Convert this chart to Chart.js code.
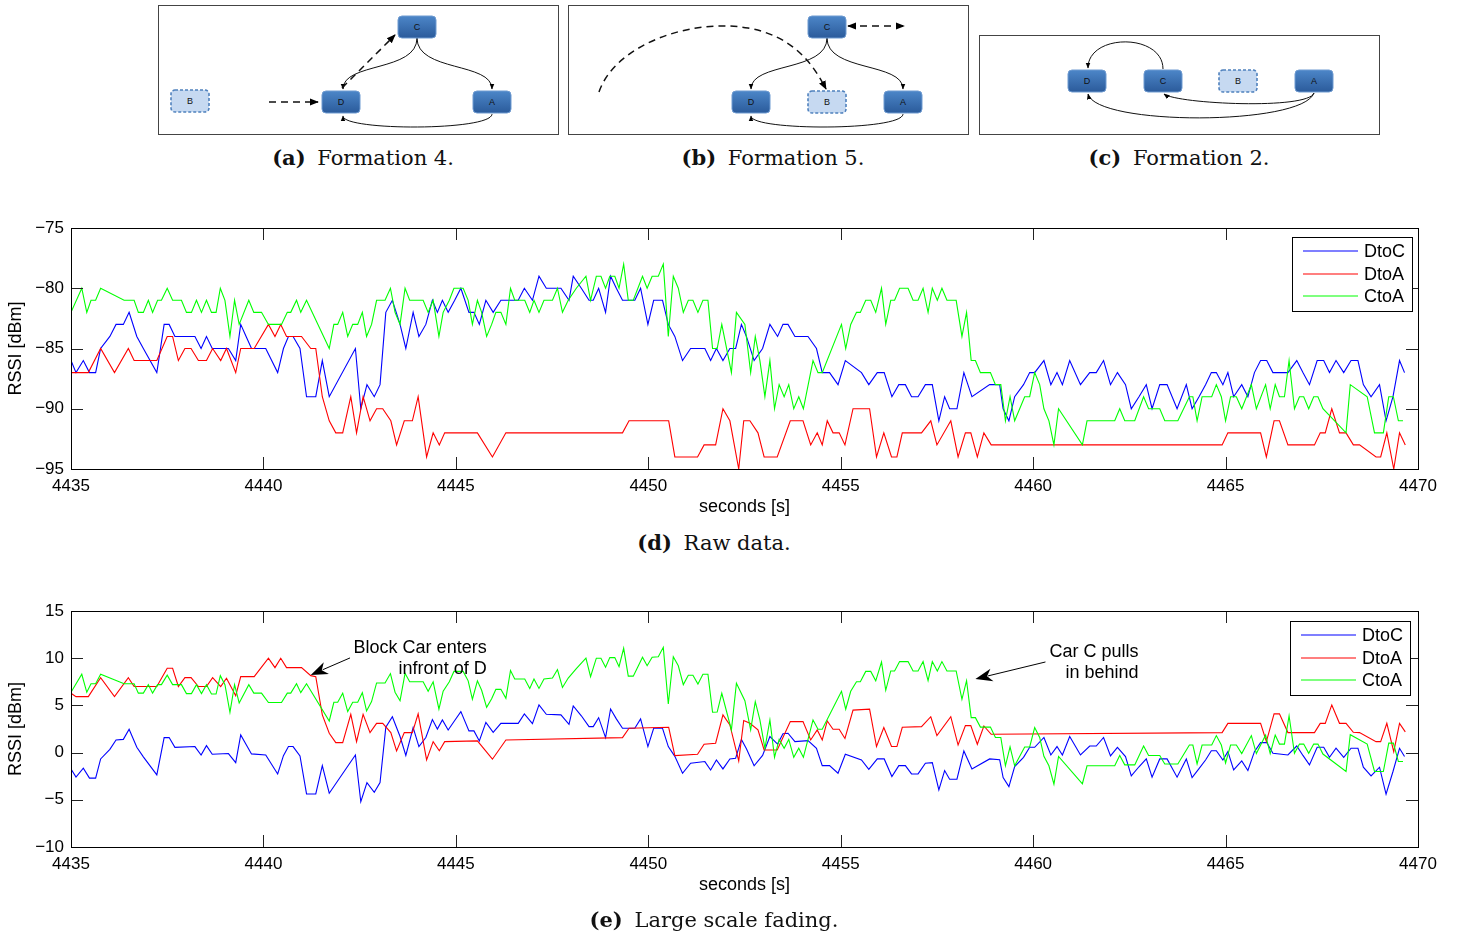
<!DOCTYPE html>
<html>
<head>
<meta charset="utf-8">
<script src="https://cdn.jsdelivr.net/npm/chart.js@4.4.0/dist/chart.umd.min.js"></script>
<style>
  html, body { margin: 0; padding: 0; background: #fff; }
  body { width: 1459px; height: 938px; position: relative; overflow: hidden; font-family: "Liberation Sans", Arial, sans-serif; }
  .cap { position: absolute; font-family: "DejaVu Serif", "Liberation Serif", serif; font-size: 21px; color: #111; transform: translateX(-50%); white-space: nowrap; line-height: 26px; }
  .cap b { margin-right: 5px; }
  .plot { position: absolute; left: 0; width: 1459px; }
  #figs { position: absolute; left: 0; top: 0; }
  #figs text { font-family: "Liberation Sans", Arial, sans-serif; font-size: 9px; fill: #111; text-anchor: middle; dominant-baseline: central; }
</style>
</head>
<body>

<svg id="figs" width="1459" height="140">
  <defs>
    <linearGradient id="nodeFill" x1="0" y1="0" x2="0" y2="1">
      <stop offset="0" stop-color="#4c86c8"/>
      <stop offset="1" stop-color="#2b5b9b"/>
    </linearGradient>
    <marker id="ah" viewBox="0 0 10 10" refX="9" refY="5" markerWidth="6" markerHeight="6" orient="auto-start-reverse">
      <path d="M0,1 L10,5 L0,9 z" fill="#000"/>
    </marker>
  </defs>
  <g fill="none" stroke="#444" stroke-width="1">
    <rect x="158.5" y="5.5" width="400" height="129"/>
    <rect x="568.5" y="5.5" width="400" height="129"/>
    <rect x="979.5" y="35.5" width="400" height="99"/>
  </g>

  <!-- (a) Formation 4 -->
  <g fill="none" stroke="#111" stroke-width="1">
    <path d="M417,38 C417,72 343,62 343,89" marker-end="url(#ah)"/>
    <path d="M417,38 C417,72 492,62 492,89" marker-end="url(#ah)"/>
    <path d="M492,114 C492,131 343,131 343,116" marker-end="url(#ah)"/>
  </g>
  <g fill="none" stroke="#111" stroke-width="1.5" stroke-dasharray="7 5">
    <path d="M269,102 L318,102" marker-end="url(#ah)"/>
    <path d="M342,88 L395,35" marker-end="url(#ah)"/>
  </g>
  <rect x="171" y="90" width="38" height="22" rx="4" fill="#c6d9f1" stroke="#4f81bd" stroke-width="1.6" stroke-dasharray="3 2"/>
  <text x="190" y="101">B</text>
  <rect x="322" y="91" width="38" height="22" rx="4" fill="url(#nodeFill)" stroke="#6f9bd1"/>
  <text x="341" y="102">D</text>
  <rect x="473" y="91" width="38" height="22" rx="4" fill="url(#nodeFill)" stroke="#6f9bd1"/>
  <text x="492" y="102">A</text>
  <rect x="398" y="16" width="38" height="22" rx="4" fill="url(#nodeFill)" stroke="#6f9bd1"/>
  <text x="417" y="27">C</text>

  <!-- (b) Formation 5 -->
  <g fill="none" stroke="#111" stroke-width="1">
    <path d="M827,38 C827,72 751,62 751,89" marker-end="url(#ah)"/>
    <path d="M827,38 C827,72 903,62 903,89" marker-end="url(#ah)"/>
    <path d="M903,114 C903,131 751,131 751,116" marker-end="url(#ah)"/>
  </g>
  <g fill="none" stroke="#111" stroke-width="1.5" stroke-dasharray="7 5">
    <path d="M599,92 C615,45 690,18 748,28 C792,36 812,62 826,89" marker-end="url(#ah)"/>
    <path d="M848,26 L904,26" marker-start="url(#ah)" marker-end="url(#ah)"/>
  </g>
  <rect x="808" y="16" width="38" height="22" rx="4" fill="url(#nodeFill)" stroke="#6f9bd1"/>
  <text x="827" y="27">C</text>
  <rect x="732" y="91" width="38" height="22" rx="4" fill="url(#nodeFill)" stroke="#6f9bd1"/>
  <text x="751" y="102">D</text>
  <rect x="808" y="91" width="38" height="22" rx="4" fill="#c6d9f1" stroke="#4f81bd" stroke-width="1.6" stroke-dasharray="3 2"/>
  <text x="827" y="102">B</text>
  <rect x="884" y="91" width="38" height="22" rx="4" fill="url(#nodeFill)" stroke="#6f9bd1"/>
  <text x="903" y="102">A</text>

  <!-- (c) Formation 2 -->
  <g fill="none" stroke="#111" stroke-width="1">
    <path d="M1163,69 C1163,33 1088,33 1088,68" marker-end="url(#ah)"/>
    <path d="M1314,93 C1308,110 1178,104 1164,94" marker-end="url(#ah)"/>
    <path d="M1314,93 C1302,126 1096,126 1088,94" marker-end="url(#ah)"/>
  </g>
  <rect x="1068" y="70" width="38" height="22" rx="4" fill="url(#nodeFill)" stroke="#6f9bd1"/>
  <text x="1087" y="81">D</text>
  <rect x="1144" y="70" width="38" height="22" rx="4" fill="url(#nodeFill)" stroke="#6f9bd1"/>
  <text x="1163" y="81">C</text>
  <rect x="1219" y="70" width="38" height="22" rx="4" fill="#c6d9f1" stroke="#4f81bd" stroke-width="1.6" stroke-dasharray="3 2"/>
  <text x="1238" y="81">B</text>
  <rect x="1295" y="70" width="38" height="22" rx="4" fill="url(#nodeFill)" stroke="#6f9bd1"/>
  <text x="1314" y="81">A</text>
</svg>

<div class="cap" style="left:363px; top:145px"><b>(a)</b> Formation 4.</div>
<div class="cap" style="left:773px; top:145px"><b>(b)</b> Formation 5.</div>
<div class="cap" style="left:1179px; top:145px"><b>(c)</b> Formation 2.</div>

<div class="plot" style="top:210px; height:320px"><canvas id="raw"></canvas></div>
<div class="cap" style="left:714px; top:530px"><b>(d)</b> Raw data.</div>

<div class="plot" style="top:592px; height:320px"><canvas id="fading"></canvas></div>
<div class="cap" style="left:714px; top:907px"><b>(e)</b> Large scale fading.</div>

<script>
// --- data (seconds, dBm) ---
const seriesNames = ['DtoC', 'DtoA', 'CtoA'];
const seriesColors = ['#0000ff', '#ff0000', '#00ff00'];

const tDtoC = [
4435.00,4435.13,4435.32,4435.48,4435.64,4435.77,4436.01,4436.17,4436.36,4436.51,
4436.71,4436.88,4437.23,4437.42,4437.55,4437.70,4438.22,4438.38,4438.52,4438.67,
4439.09,4439.28,4439.41,4439.55,4439.69,4440.06,4440.37,4440.52,4440.65,4440.77,
4440.95,4441.12,4441.36,4441.53,4441.71,4442.39,4442.53,4442.69,4442.88,4443.03,
4443.18,4443.35,4443.55,4443.70,4443.89,4444.04,4444.22,4444.39,4444.52,4444.65,
4444.80,4444.97,4445.13,4445.34,4445.47,4445.61,4445.78,4445.97,4446.17,4446.62,
4446.78,4446.99,4447.16,4447.35,4447.73,4447.94,4448.05,4448.26,4448.46,4448.57,
4448.71,4448.89,4449.02,4449.17,4449.33,4449.65,4449.80,4449.99,4450.14,4450.37,
4450.52,4450.69,4450.89,4451.10,4451.47,4451.62,4451.77,4451.94,4452.12,4452.27,
4452.42,4452.55,4452.75,4452.97,4453.16,4453.36,4453.50,4453.63,4453.81,4454.15,
4454.37,4454.52,4454.71,4454.93,4455.12,4455.54,4455.73,4455.95,4456.13,4456.33,
4456.51,4456.68,4456.84,4457.01,4457.20,4457.38,4457.55,4457.70,4457.83,4458.02,
4458.20,4458.41,4458.87,4459.13,4459.22,4459.37,4459.52,4459.75,4459.91,4460.04,
4460.28,4460.46,4460.62,4460.76,4460.95,4461.23,4461.47,4461.64,4461.83,4462.01,
4462.19,4462.40,4462.55,4462.75,4462.94,4463.09,4463.29,4463.48,4463.74,4463.98,
4464.13,4464.31,4464.48,4464.63,4464.76,4464.93,4465.06,4465.21,4465.42,4465.58,
4465.75,4465.91,4466.07,4466.23,4466.62,4466.85,4467.01,4467.18,4467.38,4467.55,
4467.70,4467.87,4468.07,4468.26,4468.44,4468.58,4468.78,4469.00,4469.17,4469.35,
4469.52,4469.65];
const rawDtoC = [
-86,-87,-86,-87,-87,-85,-84,-83,-83,-82,
-84,-85,-87,-83,-83,-84,-84,-85,-84,-85,
-85,-86,-83,-84,-85,-85,-87,-85,-84,-84,
-85,-89,-89,-86,-89,-85,-90,-88,-89,-88,
-82,-81,-83,-85,-82,-84,-83,-81,-82,-81,
-82,-81,-80,-82,-82,-83,-81,-82,-81,-81,
-80,-81,-79,-80,-80,-81,-79,-80,-81,-81,
-80,-82,-79,-80,-81,-81,-80,-83,-81,-81,
-83,-84,-86,-85,-85,-86,-85,-86,-85,-85,
-83,-84,-86,-85,-83,-84,-83,-83,-84,-84,
-85,-87,-87,-88,-86,-87,-88,-87,-87,-89,
-88,-88,-89,-89,-88,-88,-91,-89,-90,-90,
-87,-89,-88,-88,-90,-91,-89,-88,-87,-87,
-86,-88,-87,-88,-86,-88,-87,-87,-86,-88,
-87,-88,-90,-89,-88,-90,-88,-88,-90,-88,
-90,-89,-88,-87,-87,-88,-87,-89,-88,-89,
-87,-86,-86,-87,-87,-86,-87,-88,-86,-86,
-87,-86,-87,-86,-86,-88,-89,-88,-91,-89,
-86,-87];
const fadeDtoC = [
-1.73,-2.6,-1.66,-2.7,-2.7,-0.67,0.35,1.34,1.4,2.47,
0.56,-0.45,-2.36,1.59,1.59,0.56,0.64,-0.25,0.74,-0.18,
-0.1,-1.06,1.87,0.85,-0.14,-0.25,-2.26,-0.32,0.64,0.64,
-0.35,-4.38,-4.38,-1.38,-4.3,-0.25,-5.2,-3.18,-4.2,-3.18,
2.68,3.8,1.7,-0.3,2.65,0.64,1.6,3.5,2.5,3.46,
2.4,3.4,4.34,2.3,2.3,1.24,3.2,2.15,3.1,3.1,
4.1,3.07,5.05,4.06,4.0,3.0,4.94,3.9,2.75,2.75,
3.7,1.59,4.62,3.57,2.58,2.58,3.57,0.64,2.58,2.58,
0.64,-0.4,-2.19,-1.13,-0.95,-1.84,-0.78,-1.73,-0.67,-0.6,
1.4,0.4,-1.4,-0.3,1.7,0.9,2.0,2.05,1.16,1.27,
0.46,-1.38,-1.38,-2.19,-0.18,-0.78,-1.77,-0.67,-0.67,-2.54,
-1.38,-1.38,-2.26,-2.26,-1.13,-1.06,-3.95,-1.9,-2.82,-2.82,
0.18,-1.73,-0.67,-0.75,-2.65,-3.6,-1.48,-0.5,0.56,0.56,
1.6,-0.25,0.64,-0.25,1.7,-0.25,0.7,0.7,1.6,-0.35,
0.56,-0.42,-2.47,-1.5,-0.67,-2.6,-0.67,-0.67,-2.6,-0.67,
-2.65,-1.7,-0.78,0.2,0.2,-0.78,0.1,-1.84,-0.88,-1.9,
0.1,1.06,1.06,-0.07,-0.25,0.7,-0.3,-1.3,0.56,0.56,
-0.5,0.46,-0.5,0.46,0.46,-1.55,-2.47,-1.55,-4.4,-2.0,
0.46,-0.42];

const tDtoA = [
4435.00,4435.13,4435.45,4435.77,4436.13,4436.49,4436.64,4437.23,4437.50,4437.64,
4437.79,4437.96,4438.12,4438.31,4438.52,4438.68,4438.89,4439.04,4439.28,4439.41,
4439.76,4440.13,4440.30,4440.45,4440.60,4440.99,4441.23,4441.36,4441.53,4441.71,
4441.88,4442.06,4442.27,4442.42,4442.59,4442.77,4442.94,4443.10,4443.31,4443.46,
4443.66,4443.87,4444.02,4444.24,4444.41,4444.57,4444.71,4445.56,4445.95,4446.30,
4449.33,4449.50,4450.53,4450.69,4451.28,4451.45,4451.75,4451.94,4452.12,4452.35,
4452.48,4452.64,4452.85,4453.01,4453.35,4453.69,4454.02,4454.22,4454.39,4454.52,
4454.65,4454.80,4454.96,4455.11,4455.32,4455.75,4455.93,4456.12,4456.32,4456.46,
4456.60,4457.10,4457.34,4457.50,4457.86,4458.05,4458.24,4458.38,4458.55,4458.72,
4458.91,4464.91,4465.06,4465.91,4466.06,4466.26,4466.40,4466.62,4467.31,4467.46,
4467.59,4467.76,4467.96,4468.13,4468.32,4468.48,4468.91,4469.03,4469.19,4469.37,
4469.52,4469.67];
const rawDtoA = [
-87,-87,-87,-85,-87,-85,-86,-86,-84,-84,
-86,-85,-85,-86,-86,-85,-86,-85,-87,-85,
-85,-83,-84,-83,-84,-84,-85,-85,-89,-91,
-92,-92,-89,-92,-89,-91,-90,-90,-91,-93,
-91,-91,-89,-94,-92,-93,-92,-92,-94,-92,
-92,-91,-91,-94,-94,-93,-93,-90,-91,-95,
-91,-91,-92,-94,-94,-91,-91,-93,-92,-93,
-91,-92,-92,-93,-90,-90,-94,-92,-94,-94,
-92,-92,-91,-93,-91,-94,-92,-92,-94,-92,
-93,-93,-92,-92,-94,-91,-91,-93,-93,-92,
-92,-90,-92,-92,-93,-93,-94,-94,-92,-95,
-92,-93];
const fadeDtoA = [
6.28,5.93,5.93,7.94,5.93,7.94,7.0,7.0,8.93,8.93,
7.0,7.94,7.94,7.0,7.0,7.94,7.0,7.87,6.03,8.05,
8.05,10.0,9.0,10.0,9.0,9.0,8.15,8.05,4.0,2.05,
1.06,1.06,4.06,1.16,4.06,2.12,3.1,3.1,2.12,0.18,
2.12,2.12,4.1,-0.78,1.16,0.2,1.16,1.24,-0.7,1.34,
1.59,2.58,2.68,-0.32,-0.18,0.88,0.99,4.0,2.93,-0.88,
3.4,3.1,2.4,0.28,0.28,3.28,3.28,1.34,2.4,1.34,
3.35,2.47,2.47,1.5,4.5,4.6,0.64,2.65,0.64,0.64,
2.68,2.75,3.8,1.8,3.8,0.8,2.86,2.86,0.88,2.82,
1.94,2.12,3.1,3.1,1.16,4.1,4.1,2.12,2.12,3.1,
3.1,5.05,3.1,3.1,2.15,2.12,1.16,1.16,3.1,0.1,
3.1,2.2];

const tCtoA = [
4435.00,4435.28,4435.41,4435.52,4435.64,4435.77,4436.38,4436.64,4436.75,4436.88,
4437.01,4437.12,4437.25,4437.35,4437.50,4437.64,4437.87,4438.00,4438.13,4438.26,
4438.39,4438.52,4438.65,4438.77,4438.88,4439.00,4439.13,4439.25,4439.37,4439.62,
4439.75,4439.95,4440.13,4440.47,4440.62,4440.71,4440.86,4440.97,4441.12,4441.71,
4441.83,4441.93,4442.06,4442.19,4442.32,4442.45,4442.57,4442.68,4442.81,4442.94,
4443.16,4443.30,4443.42,4443.55,4443.68,4443.80,4444.15,4444.28,4444.41,4444.56,
4444.67,4444.83,4444.95,4445.19,4445.32,4445.43,4445.56,4445.67,4445.80,4445.93,
4446.04,4446.17,4446.30,4446.42,4446.53,4446.79,4446.92,4447.03,4447.16,4447.29,
4447.51,4447.64,4447.77,4447.92,4448.13,4448.38,4448.50,4448.65,4448.77,4448.89,
4449.00,4449.13,4449.24,4449.36,4449.48,4449.61,4449.85,4449.97,4450.10,4450.26,
4450.39,4450.52,4450.65,4450.78,4450.91,4451.04,4451.16,4451.29,4451.42,4451.55,
4451.67,4451.79,4451.91,4452.16,4452.29,4452.51,4452.66,4452.78,4452.90,4453.03,
4453.16,4453.28,4453.40,4453.53,4453.65,4453.78,4453.91,4454.03,4454.28,4454.41,
4454.52,4455.02,4455.13,4455.26,4455.41,4455.51,4455.65,4455.78,4455.91,4456.06,
4456.17,4456.30,4456.40,4456.53,4456.75,4456.88,4457.01,4457.14,4457.27,4457.38,
4457.51,4457.63,4457.76,4458.00,4458.15,4458.27,4458.39,4458.50,4458.63,4458.89,
4459.02,4459.16,4459.28,4459.40,4459.52,4459.78,4459.91,4460.04,4460.17,4460.28,
4460.41,4460.54,4460.66,4461.28,4461.40,4462.12,4462.25,4462.38,4462.64,4462.87,
4463.00,4463.29,4463.42,4463.76,4464.06,4464.15,4464.26,4464.39,4464.64,4464.76,
4464.89,4465.00,4465.13,4465.28,4465.42,4465.67,4465.80,4466.04,4466.16,4466.29,
4466.40,4466.53,4466.65,4466.79,4466.92,4467.03,4467.16,4467.29,4467.40,4467.53,
4468.13,4468.24,4468.68,4468.87,4469.10,4469.24,4469.36,4469.49,4469.61];
const rawCtoA = [
-82,-80,-82,-81,-81,-80,-81,-81,-82,-82,
-81,-82,-81,-81,-80,-81,-81,-82,-82,-81,
-82,-81,-82,-82,-80,-81,-84,-81,-83,-81,
-82,-82,-83,-83,-82,-82,-81,-82,-81,-85,
-83,-83,-82,-84,-83,-83,-82,-84,-83,-81,
-81,-80,-82,-83,-80,-81,-81,-82,-81,-84,
-82,-81,-80,-80,-81,-83,-81,-82,-84,-83,
-82,-82,-83,-80,-81,-81,-82,-81,-82,-81,
-81,-80,-82,-81,-80,-79,-81,-79,-79,-80,
-79,-79,-80,-78,-81,-81,-79,-80,-79,-79,
-78,-84,-79,-80,-82,-81,-81,-82,-81,-81,
-85,-85,-83,-87,-82,-83,-87,-84,-86,-89,
-86,-90,-88,-89,-88,-90,-89,-90,-86,-87,
-87,-83,-85,-83,-82,-82,-81,-81,-82,-80,
-83,-81,-81,-80,-80,-81,-81,-80,-82,-80,
-81,-80,-81,-81,-84,-82,-86,-86,-87,-87,
-88,-88,-91,-89,-91,-89,-89,-87,-88,-90,
-91,-93,-90,-93,-91,-91,-90,-91,-91,-89,
-90,-90,-91,-91,-89,-89,-91,-89,-89,-88,
-89,-91,-89,-89,-90,-88,-90,-88,-90,-88,
-89,-89,-86,-90,-89,-89,-90,-89,-89,-90,
-92,-88,-89,-92,-92,-89,-89,-91,-91];
const fadeCtoA = [
6.39,8.3,6.39,7.3,7.3,8.3,7.3,7.3,6.3,6.3,
7.2,6.3,7.2,7.2,8.2,7.2,7.2,6.25,6.25,7.2,
6.25,7.2,6.2,6.2,8.15,7.2,4.27,7.2,5.26,7.2,
6.3,6.3,5.3,5.3,6.3,6.3,7.3,6.35,7.3,3.35,
5.33,5.33,6.3,4.34,5.33,5.33,6.35,4.41,5.4,7.38,
7.38,8.37,6.4,5.5,8.4,7.5,7.5,6.5,7.5,4.6,
6.5,7.5,8.6,8.6,7.6,5.65,7.6,6.6,4.8,5.7,
6.7,6.7,5.75,8.7,7.8,7.8,6.8,7.8,6.8,7.8,
7.9,8.8,6.9,7.9,8.9,10.0,8.05,10.0,10.0,9.04,
10.06,10.06,9.1,11.05,8.1,8.1,10.1,9.2,10.1,10.15,
11.15,5.15,10.15,9.2,7.2,8.2,8.2,7.27,8.3,8.3,
4.27,4.3,6.28,2.4,7.34,5.5,2.4,5.4,3.46,0.46,
3.46,-0.5,1.4,0.46,1.4,-0.5,0.46,-0.5,3.46,2.47,
2.47,6.5,4.6,6.5,7.5,7.5,8.6,8.6,7.6,9.6,
6.6,8.65,8.65,9.64,9.64,8.65,8.65,9.64,7.62,9.64,
8.65,9.64,8.65,8.65,5.65,7.62,3.7,3.7,2.7,2.7,
1.6,1.6,-1.4,0.6,-1.4,0.6,0.6,2.65,1.6,-0.4,
-1.4,-3.35,-0.4,-3.3,-1.4,-1.4,-0.3,-1.3,-1.3,0.7,
-0.3,-0.3,-1.2,-1.2,0.8,0.8,-1.2,0.8,0.8,1.8,
0.8,-1.1,0.8,0.8,-0.1,1.8,-0.1,1.85,-0.1,1.85,
0.9,0.9,3.9,-0.07,0.9,0.9,-0.07,0.9,0.9,-0.15,
-2.0,1.9,0.9,-2.0,-2.0,1.0,1.0,-0.95,-0.95];

// axis limits
const xRange = [4435, 4470];
const rawRange = [-95, -75];
const fadeRange = [-10, 15];

// text notes on the fading plot: label anchor (right edge), arrow tail and tip in data units
const fadeNotes = [
  { lines: ['Block Car enters', 'infront of D'], at: [4445.8, 11.1], tail: [4442.25, 10.03], tip: [4441.23, 8.23] },
  { lines: ['Car C pulls', 'in behind'], at: [4462.74, 10.67], tail: [4460.32, 9.6], tip: [4458.5, 7.8] }
];

const FONT = '"Liberation Sans", Arial, Helvetica, sans-serif';
Chart.defaults.font.family = FONT;
Chart.defaults.color = '#000';

function pairs(ts, vs) { return ts.map((t, i) => ({ x: t, y: vs[i] })); }
function minusTick(v) { return v < 0 ? '\u2212' + Math.abs(v) : String(v); }

// MATLAB-like box with inward ticks
const boxFrame = {
  id: 'boxFrame',
  afterDatasetsDraw(chart) {
    const { ctx, chartArea: a, scales: { x, y } } = chart;
    ctx.save();
    ctx.strokeStyle = '#222'; ctx.lineWidth = 1;
    ctx.beginPath();
    x.ticks.forEach(t => {
      const px = Math.round(x.getPixelForValue(t.value)) + 0.5;
      ctx.moveTo(px, a.top); ctx.lineTo(px, a.top + 12);
      ctx.moveTo(px, a.bottom); ctx.lineTo(px, a.bottom - 12);
    });
    y.ticks.forEach(t => {
      const py = Math.round(y.getPixelForValue(t.value)) + 0.5;
      ctx.moveTo(a.left, py); ctx.lineTo(a.left + 12, py);
      ctx.moveTo(a.right, py); ctx.lineTo(a.right - 12, py);
    });
    ctx.stroke();
    ctx.strokeStyle = '#000';
    ctx.strokeRect(Math.round(a.left) + 0.5, Math.round(a.top) + 0.5, Math.round(a.right - a.left), Math.round(a.bottom - a.top));
    ctx.restore();
  }
};

const boxLegend = {
  id: 'boxLegend',
  afterDraw(chart, args, opts) {
    const { ctx, chartArea: a } = chart;
    const w = 120, h = 74;
    const left = Math.round(a.right - opts.right - w), top = Math.round(a.top + opts.top);
    ctx.save();
    ctx.fillStyle = '#fff'; ctx.fillRect(left, top, w, h);
    ctx.strokeStyle = '#000'; ctx.lineWidth = 1; ctx.strokeRect(left + 0.5, top + 0.5, w, h);
    ctx.font = '18px ' + FONT; ctx.textBaseline = 'middle'; ctx.textAlign = 'left';
    chart.data.datasets.forEach((ds, i) => {
      const yy = Math.round(top + opts.first + i * 22.7);
      ctx.strokeStyle = ds.borderColor; ctx.lineWidth = 1.2;
      ctx.beginPath(); ctx.moveTo(left + 11, yy); ctx.lineTo(left + 66, yy); ctx.stroke();
      ctx.fillStyle = '#000'; ctx.fillText(ds.label, left + 72, yy + 1);
    });
    ctx.restore();
  }
};

const arrowNotes = {
  id: 'arrowNotes',
  afterDatasetsDraw(chart, args, opts) {
    if (!opts.items) return;
    const { ctx, scales: { x, y } } = chart;
    ctx.save();
    ctx.font = '18px ' + FONT; ctx.fillStyle = '#000'; ctx.strokeStyle = '#000';
    ctx.textAlign = 'right'; ctx.textBaseline = 'middle';
    opts.items.forEach(n => {
      const ax = x.getPixelForValue(n.at[0]), ay = y.getPixelForValue(n.at[1]);
      n.lines.forEach((s, i) => ctx.fillText(s, ax, ay + i * 21));
      const x0 = x.getPixelForValue(n.tail[0]), y0 = y.getPixelForValue(n.tail[1]);
      const x1 = x.getPixelForValue(n.tip[0]), y1 = y.getPixelForValue(n.tip[1]);
      const ang = Math.atan2(y1 - y0, x1 - x0);
      const L = 17, W = 6.5;
      const bx = x1 - L * Math.cos(ang), by = y1 - L * Math.sin(ang);
      ctx.lineWidth = 1;
      ctx.beginPath(); ctx.moveTo(x0, y0); ctx.lineTo(bx + 4 * Math.cos(ang), by + 4 * Math.sin(ang)); ctx.stroke();
      ctx.beginPath();
      ctx.moveTo(x1, y1);
      ctx.lineTo(bx - W * Math.sin(ang), by + W * Math.cos(ang));
      ctx.lineTo(bx + 5 * Math.cos(ang), by + 5 * Math.sin(ang));
      ctx.lineTo(bx + W * Math.sin(ang), by - W * Math.cos(ang));
      ctx.closePath(); ctx.fill();
    });
    ctx.restore();
  }
};

function makeChart(id, sets, yRange, pad, xTitle, legendPos, notes) {
  return new Chart(document.getElementById(id), {
    type: 'line',
    data: {
      datasets: sets.map((d, i) => ({
        label: seriesNames[i],
        data: d,
        borderColor: seriesColors[i],
        borderWidth: 1.1,
        pointRadius: 0,
        tension: 0,
        fill: false,
        order: sets.length - i
      }))
    },
    options: {
      responsive: true,
      maintainAspectRatio: false,
      animation: false,
      devicePixelRatio: 1,
      layout: { padding: pad },
      plugins: {
        legend: { display: false },
        tooltip: { enabled: false },
        boxLegend: legendPos,
        arrowNotes: { items: notes }
      },
      scales: {
        x: {
          type: 'linear', min: xRange[0], max: xRange[1],
          grid: { display: false, drawTicks: false }, border: { display: false },
          ticks: { stepSize: 5, padding: 7, font: { size: 17 }, color: '#000', maxRotation: 0, callback: v => String(v) },
          title: { display: true, text: 'seconds [s]', font: { size: 18 }, color: '#000', padding: { top: 0, bottom: xTitle.pad } },
          afterFit: s => { s.height = xTitle.h; }
        },
        y: {
          min: yRange[0], max: yRange[1],
          grid: { display: false, drawTicks: false }, border: { display: false },
          ticks: { stepSize: 5, padding: 7, font: { size: 17 }, color: '#000', callback: minusTick },
          title: { display: true, text: 'RSSI [dBm]', font: { size: 18 }, color: '#000', padding: { top: 5, bottom: 0 } },
          afterFit: s => { s.width = 71; }
        }
      }
    },
    plugins: [boxFrame, boxLegend, arrowNotes]
  });
}

makeChart('raw',
  [pairs(tDtoC, rawDtoC), pairs(tDtoA, rawDtoA), pairs(tCtoA, rawCtoA)],
  rawRange, { top: 18, right: 41, left: 0, bottom: 0 }, { h: 61, pad: 12 },
  { top: 8.5, right: 6.5, first: 14 }, null);

makeChart('fading',
  [pairs(tDtoC, fadeDtoC), pairs(tDtoA, fadeDtoA), pairs(tCtoA, fadeCtoA)],
  fadeRange, { top: 19, right: 41, left: 0, bottom: 0 }, { h: 65, pad: 16 },
  { top: 9.5, right: 8.5, first: 14 }, fadeNotes);
</script>
</body>
</html>
